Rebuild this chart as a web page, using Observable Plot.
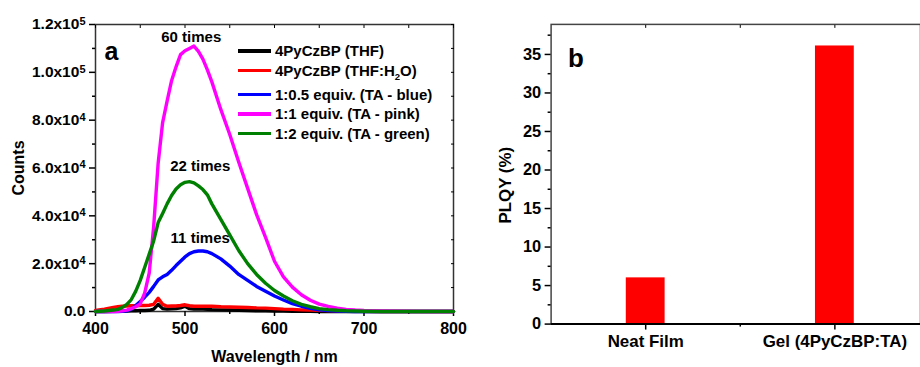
<!DOCTYPE html>
<html><head><meta charset="utf-8">
<script src="https://cdn.jsdelivr.net/npm/d3@7"></script>
<script src="https://cdn.jsdelivr.net/npm/@observablehq/plot@0.6"></script>
<style>
html,body{margin:0;padding:0;overflow:hidden;background:#fff;}
#wrap{position:relative;width:920px;height:367px;overflow:hidden;font-family:"Liberation Sans",Arial,sans-serif;}
#a{position:absolute;left:0;top:0;}
#b{position:absolute;left:460px;top:0;}
#legend{position:absolute;left:238px;top:41px;font-weight:bold;font-size:15px;color:#000;}
#legend .row{display:flex;align-items:center;height:19.5px;white-space:nowrap;}
#legend .row.sub{margin-bottom:4.5px;}
#legend .sw{display:inline-block;width:33px;height:3.5px;margin-right:4px;}
#legend sub{font-size:9.5px;vertical-align:-4px;line-height:0;}
</style>
</head><body>
<div id="wrap"><div id="a"></div><div id="b"></div><div id="legend"></div></div>
<script>
// ---------- Panel a data (counts in units of 10^4) ----------
const wavelength = [400,410,420,425,430,435,440,445,450,455,460,465,470,475,480,485,490,495,500,505,510,515,520,525,530,540,550,560,570,580,590,600,610,620,630,640,650,660,670,680,690,700,720,740,760,780,800];
const thf = [0,0,0.01, 0.01,0.02,0.02,0.03,0.03,0.04,0.04,0.05,0.1,0.3,0.12,0.1,0.11,0.12,0.15,0.22,0.12,0.1,0.1,0.1,0.09,0.08, 0.07,0.06,0.05,0.04,0.03,0.03,0.02,0.02,0.01,0.01,0.01,0,0,0,0,0,0, 0,0,0,0,0];
const thfWater = [0.04,0.1,0.17, 0.2,0.22,0.23,0.24,0.24,0.25,0.25,0.26,0.3,0.55,0.3,0.22,0.23,0.23,0.25,0.28,0.24,0.22,0.22,0.22,0.22,0.22, 0.2,0.19,0.18,0.17,0.15,0.14,0.12,0.1,0.09,0.07,0.06,0.05,0.04,0.03,0.02,0.01,0.005, 0,0,0,0,0];
const taBlue = [0,0,0, 0,0.01,0.03,0.1,0.25,0.42,0.6,0.8,1.05,1.32,1.45,1.55,1.72,1.92,2.1,2.28,2.42,2.5,2.53,2.53,2.5,2.42, 2.2,1.9,1.55,1.3,1.05,0.85,0.65,0.48,0.33,0.22,0.13,0.07,0.04,0.02,0.01,0,0, 0,0,0,0,0];
const taPink = [0,0,0, 0.01,0.03,0.06,0.12,0.2,0.32,0.78,1.6,3.55,6.2,7.9,8.8,9.65,10.23,10.74,10.9,11.0,11.1,10.88,10.55,10.1,9.6, 8.45,7.4,6.25,5.15,4.05,3.1,2.1,1.45,1.02,0.7,0.47,0.31,0.21,0.14,0.09,0.06,0.04, 0.02,0.01,0.005,0,0];
const taGreen = [0,0.02,0.06, 0.09,0.17,0.3,0.5,0.85,1.3,1.85,2.4,2.95,3.72,4.1,4.5,4.85,5.12,5.3,5.4,5.43,5.38,5.25,5.1,4.88,4.5, 3.85,3.2,2.55,2.0,1.55,1.18,0.88,0.65,0.45,0.3,0.2,0.12,0.08,0.05,0.03,0.02,0.01, 0,0,0,0,0];
const seriesNames = ["4PyCzBP (THF)", "4PyCzBP (THF:H_2O)", "1:0.5 equiv. (TA - blue)", "1:1 equiv. (TA - pink)", "1:2 equiv. (TA - green)"];
const seriesColors = ["#000000", "#ff0000", "#0000ff", "#ff00ff", "#008000"];
const seriesValues = [thf, thfWater, taBlue, taPink, taGreen];
const xTicksA = [400,500,600,700,800];
const xMinorA = [450,550,650,750];
const yTicksA = [0,2,4,6,8,10,12];
const yMinorA = [1,3,5,7,9,11];
const annText = ["60 times", "22 times", "11 times"];
const annX = [507, 517, 517];
const annY = [11.45, 6.07, 3.08];

// ---------- Panel b data ----------
const films = ["Neat Film", "Gel (4PyCzBP:TA)"];
const plqy = [6.0, 36.1];
const yTicksB = [0,5,10,15,20,25,30,35];
const yMinorB = [2.5,7.5,12.5,17.5,22.5,27.5,32.5,37.5];

const FONT = "'Liberation Sans', Arial, Helvetica, sans-serif";
const fmtA = v => v === 0 ? "0.0" : v >= 10 ? (v/10).toFixed(1) + "x10^5" : v.toFixed(1) + "x10^4";

const plotA = Plot.plot({
  width: 460, height: 367,
  marginLeft: 95, marginRight: 7, marginTop: 24, marginBottom: 56,
  x: {domain: [400, 800]},
  y: {domain: [0, 12]},
  style: {fontFamily: FONT, fontWeight: "bold", color: "#000", background: "transparent", overflow: "visible"},
  marks: [
    Plot.frame({stroke: "#333", strokeWidth: 1.5}),
    Plot.axisX({ticks: xTicksA, tickSize: 5, tickPadding: 6, strokeWidth: 1.5, fontSize: 16, tickFormat: d => String(d), label: null}),
    Plot.axisX({ticks: xMinorA, tickSize: 3, strokeWidth: 1.5, tickFormat: () => "", label: null}),
    Plot.axisX({anchor: "top", ticks: xTicksA.concat(xMinorA), tickSize: -3, strokeWidth: 1, tickFormat: () => "", label: null}),
    Plot.axisY({ticks: yTicksA, tickSize: 6, tickPadding: 4, strokeWidth: 1.5, fontSize: 15.5, tickFormat: fmtA, label: null}),
    Plot.axisY({ticks: yMinorA, tickSize: 3, strokeWidth: 1.5, tickFormat: () => "", label: null}),
    Plot.axisY({anchor: "right", ticks: yTicksA.concat(yMinorA), tickSize: -3, strokeWidth: 1, tickFormat: () => "", label: null}),
    ...seriesValues.map((vals, i) => Plot.line(vals, {x: wavelength, y: d => d, stroke: seriesColors[i], strokeWidth: 3.4, strokeLinejoin: "round"})),
    Plot.text(annText, {x: annX, y: annY, text: d => d, fontSize: 15, fill: "#000"}),
    Plot.text(["a"], {frameAnchor: "top-left", textAnchor: "start", dx: 9, dy: 18, fontSize: 25}),
    Plot.text(["Wavelength / nm"], {frameAnchor: "bottom", textAnchor: "middle", dy: 50.5, fontSize: 16}),
    Plot.text(["Counts"], {frameAnchor: "left", textAnchor: "middle", rotate: -90, dx: -77, fontSize: 16})
  ]
});

// superscripts for the y tick labels
plotA.querySelectorAll('g[aria-label="y-axis tick label"] text').forEach(t => {
  const s = t.textContent, k = s.indexOf("^");
  if (k < 0) return;
  t.textContent = s.slice(0, k);
  const ts = document.createElementNS("http://www.w3.org/2000/svg", "tspan");
  ts.setAttribute("dy", "-4.5");
  ts.setAttribute("font-size", "11");
  ts.textContent = s.slice(k + 1);
  t.appendChild(ts);
});
document.getElementById("a").appendChild(plotA);

const posB = films.map((f, i) => i + 1);
const halfW = 0.1026;
const plotB = Plot.plot({
  width: 462, height: 367,
  marginLeft: 91, marginRight: 0, marginTop: 24, marginBottom: 42,
  x: {domain: [0.5, 0.5 + 371/190]},
  y: {domain: [0, 38.9]},
  style: {fontFamily: FONT, fontWeight: "bold", color: "#000", background: "transparent"},
  marks: [
    Plot.rectY(plqy, {x1: (d, i) => posB[i] - halfW, x2: (d, i) => posB[i] + halfW, y1: 0, y2: d => d, fill: "#ff0000"}),
    Plot.frame({stroke: "#444", strokeWidth: 1.5}),
    Plot.ruleY([0], {stroke: "#000", strokeWidth: 2}),
    Plot.axisX({ticks: posB, tickSize: 6, tickPadding: 5, strokeWidth: 1.5, fontSize: 17, tickFormat: d => films[d - 1], label: null}),
    Plot.axisX({ticks: [1.5], tickSize: 3, strokeWidth: 1.5, tickFormat: () => "", label: null}),
    Plot.axisX({anchor: "top", ticks: [1, 1.5, 2], tickSize: -3, strokeWidth: 1, tickFormat: () => "", label: null}),
    Plot.axisY({ticks: yTicksB, tickSize: 6, tickPadding: 4, strokeWidth: 1.5, fontSize: 16.5, tickFormat: d => String(d), label: null}),
    Plot.axisY({ticks: yMinorB, tickSize: 3, strokeWidth: 1.5, tickFormat: () => "", label: null}),
    Plot.text(["b"], {frameAnchor: "top-left", textAnchor: "start", dx: 17, dy: 24.7, fontSize: 26}),
    Plot.text(["PLQY (%)"], {frameAnchor: "left", textAnchor: "middle", rotate: -90, dx: -46, dy: 11, fontSize: 17})
  ]
});
document.getElementById("b").appendChild(plotB);

// legend
const legend = document.getElementById("legend");
seriesNames.forEach((name, i) => {
  const row = document.createElement("div");
  row.className = "row" + (name.includes("_") ? " sub" : "");
  const sw = document.createElement("span");
  sw.className = "sw";
  sw.style.background = seriesColors[i];
  row.appendChild(sw);
  const txt = document.createElement("span");
  const k = name.indexOf("_");
  if (k >= 0) {
    txt.append(name.slice(0, k));
    const sub = document.createElement("sub");
    sub.textContent = name.slice(k + 1, k + 2);
    txt.append(sub);
    txt.append(name.slice(k + 2));
  } else txt.textContent = name;
  row.appendChild(txt);
  legend.appendChild(row);
});
</script>
</body></html>
